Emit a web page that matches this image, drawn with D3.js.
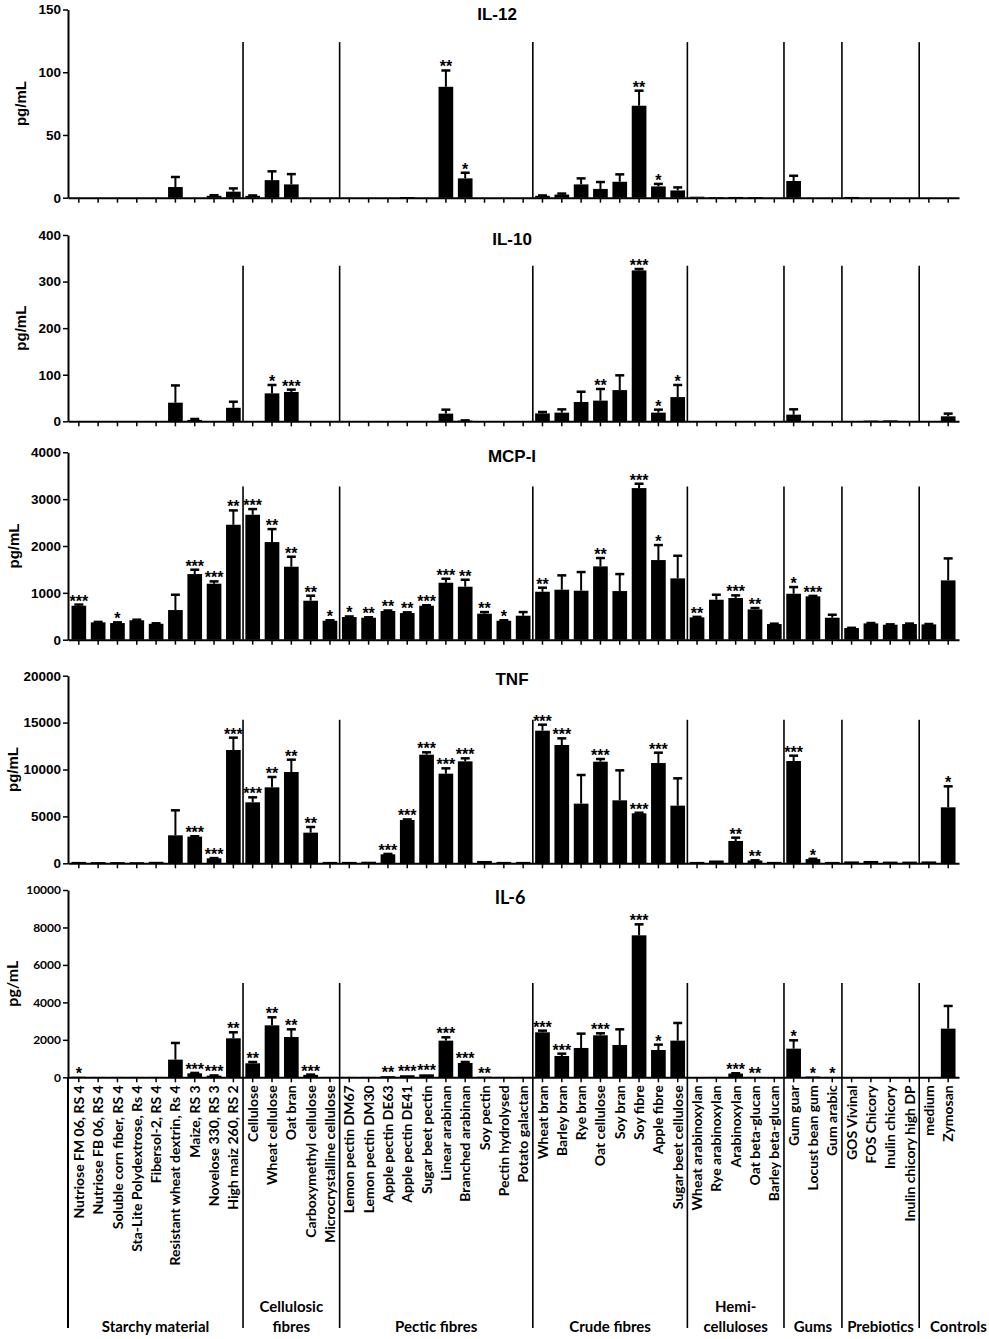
<!DOCTYPE html>
<html>
<head>
<meta charset="utf-8">
<script src="https://cdn.jsdelivr.net/npm/d3@7"></script>
<style>
  body { margin: 0; background: #fff; }
  svg { display: block; }
</style>
</head>
<body>
<div id="chart"></div>
<script>
const categories = [
  "Nutriose FM 06, RS 4", "Nutriose FB 06, RS 4", "Soluble corn fiber, RS 4", "Sta-Lite Polydextrose, Rs 4",
  "Fibersol-2, RS 4", "Resistant wheat dextrin, Rs 4", "Maize, RS 3", "Novelose 330, RS 3", "High maiz 260, RS 2",
  "Cellulose", "Wheat cellulose", "Oat bran", "Carboxymethyl cellulose", "Microcrystalline cellulose",
  "Lemon pectin DM67", "Lemon pectin DM30", "Apple pectin DE63", "Apple pectin DE41", "Sugar beet pectin",
  "Linear arabinan", "Branched arabinan", "Soy pectin", "Pectin hydrolysed", "Potato galactan",
  "Wheat bran", "Barley bran", "Rye bran", "Oat cellulose", "Soy bran", "Soy fibre", "Apple fibre", "Sugar beet cellulose",
  "Wheat arabinoxylan", "Rye arabinoxylan", "Arabinoxylan", "Oat beta-glucan", "Barley beta-glucan",
  "Gum guar", "Locust bean gum", "Gum arabic",
  "GOS Vivinal", "FOS Chicory", "Inulin chicory", "Inulin chicory high DP",
  "medium", "Zymosan"
];

const groupNames = [
  ["Starchy material"], ["Cellulosic", "fibres"], ["Pectic fibres"], ["Crude fibres"],
  ["Hemi-", "celluloses"], ["Gums"], ["Prebiotics"], ["Controls"]
];
const groupSizes = [9, 5, 10, 8, 5, 3, 4, 2];

// IL-12 (pg/mL)
const il12Ticks = [0, 50, 100, 150];
const il12Values = [0, 0, 0, 0, 0, 8.5, 0, 1.5, 4.8,  1.5, 14, 10.6, 0, 0,  0, 0, 0, 0.5, 0, 88.4, 15.4, 0, 0, 0,
  1.5, 2.5, 10.6, 7, 12.7, 73.3, 9, 5.8,  0.8, 0.3, 0.6, 0.4, 0,  13.3, 0, 0,  0.6, 0, 0, 0,  0, 0];
const il12Sem = [0, 0, 0, 0, 0, 8, 0, 0.5, 2.6,  0.3, 7, 8.2, 0, 0,  0, 0, 0, 0, 0, 13, 4.5, 0, 0, 0,
  0.3, 0.8, 4.8, 5.5, 5.9, 12, 2, 2.4,  0, 0, 0, 0, 0,  4.2, 0, 0,  0, 0, 0, 0,  0, 0];
const il12Stars = ["", "", "", "", "", "", "", "", "",  "", "", "", "", "",  "", "", "", "", "", "**", "*", "", "", "",
  "", "", "", "", "", "**", "*", "",  "", "", "", "", "",  "", "", "",  "", "", "", "",  "", ""];

// IL-10 (pg/mL)
const il10Ticks = [0, 100, 200, 300, 400];
const il10Values = [0, 0, 0, 0, 0, 40, 3, 0, 29,  0, 60, 63, 0, 0,  0, 0, 0, 0, 0, 16.5, 1.5, 0, 0, 0,
  17, 18.6, 41.5, 44.4, 67, 324, 18.6, 52,  0, 0, 0, 0, 0,  14.3, 0, 0,  0, 1.5, 2, 0,  0, 10.7];
const il10Sem = [0, 0, 0, 0, 0, 37, 2, 0, 13,  0, 18, 5, 0, 0,  0, 0, 0, 0, 0, 8.5, 0.5, 0, 0, 0,
  3, 7, 22, 25, 31.7, 3, 6.4, 26,  0, 0, 0, 0, 0,  11.4, 0, 0,  0, 0, 0, 0,  0, 5.8];
const il10Stars = ["", "", "", "", "", "", "", "", "",  "", "*", "***", "", "",  "", "", "", "", "", "", "", "", "", "",
  "", "", "", "**", "", "***", "*", "*",  "", "", "", "", "",  "", "", "",  "", "", "", "",  "", ""];

// MCP-I (pg/mL)
const mcpTicks = [0, 1000, 2000, 3000, 4000];
const mcpValues = [725, 370, 355, 415, 340, 633, 1401, 1195, 2454,  2667, 2084, 1558, 832, 405,
  484, 469, 612, 569, 725, 1216, 1131, 555, 405, 512,  1024, 1067, 1046, 1565, 1038, 3236, 1700, 1309,
  477, 853, 889, 647, 334,  981, 925, 469,  249, 348, 320, 334,  327, 1266];
const mcpSem = [25, 10, 15, 12, 10, 327, 93, 50, 306,  121, 277, 213, 107, 10,
  12, 10, 12, 15, 10, 85, 149, 35, 10, 78,  86, 306, 398, 178, 363, 93, 320, 483,
  10, 107, 57, 29, 8,  143, 10, 64,  5, 8, 8, 10,  8, 469];
const mcpStars = ["***", "", "*", "", "", "", "***", "***", "**",  "***", "**", "**", "**", "*",
  "*", "**", "**", "**", "***", "***", "**", "**", "*", "",  "**", "", "", "**", "", "***", "*", "",
  "**", "", "***", "**", "",  "*", "***", "",  "", "", "", "",  "", ""];

// TNF (pg/mL)
const tnfTicks = [0, 5000, 10000, 15000, 20000];
const tnfValues = [150, 130, 130, 120, 160, 2984, 2842, 533, 12078,  6501, 8099, 9734, 3268, 150,
  150, 170, 959, 4618, 11581, 9556, 10870, 250, 150, 150,  14139, 12611, 6359, 10835, 6714, 5329, 10693, 6146,
  150, 300, 2380, 300, 150,  10906, 450, 150,  200, 250, 180, 180,  200, 5968];
const tnfSem = [0, 0, 0, 0, 0, 2664, 40, 20, 1315,  533, 1102, 1314, 604, 0,
  0, 0, 40, 60, 249, 568, 320, 0, 0, 0,  639, 710, 3055, 284, 3197, 60, 1101, 2913,
  0, 0, 355, 20, 0,  568, 30, 0,  0, 0, 0, 0,  0, 2238];
const tnfStars = ["", "", "", "", "", "", "***", "***", "***",  "***", "**", "**", "**", "",
  "", "", "***", "***", "***", "***", "***", "", "", "",  "***", "***", "", "***", "", "***", "***", "",
  "", "", "**", "**", "",  "***", "*", "",  "", "", "", "",  "", "*"];

// IL-6 (pg/mL)
const il6Ticks = [0, 2000, 4000, 6000, 8000, 10000];
const il6Values = [30, 20, 20, 20, 20, 943, 213, 89, 2082,  747, 2775, 2153, 130, 20,
  20, 20, 60, 110, 160, 1957, 765, 30, 20, 20,  2402, 1139, 1566, 2242, 1726, 7580, 1459, 1957,
  10, 20, 200, 20, 10,  1530, 40, 20,  10, 10, 10, 10,  0, 2598];
const il6Sem = [0, 0, 0, 0, 0, 890, 20, 10, 320,  70, 428, 409, 15, 0,
  0, 0, 0, 0, 0, 178, 53, 0, 0, 0,  89, 124, 765, 107, 836, 587, 285, 943,
  0, 0, 15, 0, 0,  445, 0, 0,  0, 0, 0, 0,  0, 1210];
const il6Stars = ["*", "", "", "", "", "", "***", "***", "**",  "**", "**", "**", "***", "",
  "", "", "**", "***", "***", "***", "***", "**", "", "",  "***", "***", "", "***", "", "***", "*", "",
  "", "", "***", "**", "",  "*", "*", "*",  "", "", "", "",  "", ""];

const W = 989, H = 1339;
const ARIAL = "'Liberation Sans', Arial, sans-serif";
const CALIBRI = "Lato, 'Open Sans', sans-serif";
const labelBottom = 1328;

const panels = [
  { title: "IL-12", values: il12Values, sem: il12Sem, stars: il12Stars, ticks: il12Ticks, top: 9.5, zero: 197.7, divTop: 124, titleX: 497, titleY: 20, font: ARIAL },
  { title: "IL-10", values: il10Values, sem: il10Sem, stars: il10Stars, ticks: il10Ticks, top: 235, zero: 421.3, divTop: 334, titleX: 512, titleY: 245, font: ARIAL },
  { title: "MCP-I", values: mcpValues, sem: mcpSem, stars: mcpStars, ticks: mcpTicks, top: 452.3, zero: 639.7, divTop: 3270, titleX: 512, titleY: 462, font: ARIAL },
  { title: "TNF", values: tnfValues, sem: tnfSem, stars: tnfStars, ticks: tnfTicks, top: 675.7, zero: 863.3, divTop: 15300, titleX: 512, titleY: 685, font: ARIAL },
  { title: "IL-6", values: il6Values, sem: il6Sem, stars: il6Stars, ticks: il6Ticks, top: 890, zero: 1077.3, divTop: 5030, titleX: 510, titleY: 904, font: CALIBRI, last: true }
];

const svg = d3.select("#chart").append("svg").attr("width", W).attr("height", H);

const x = d3.scaleBand().domain(categories).range([68, 959]).paddingInner(0.24).paddingOuter(0.18);
const gap = x.step() - x.bandwidth();

// group boundaries (category index where a new group starts)
const starts = [];
groupSizes.reduce((acc, n) => { starts.push(acc); return acc + n; }, 0);
const boundaryX = (i) => x(categories[i]) - gap / 2;
const innerBoundaries = starts.slice(1).map(boundaryX);

panels.forEach((p) => {
  const y = d3.scaleLinear().domain([0, p.ticks[p.ticks.length - 1]]).range([p.zero, p.top]);
  const g = svg.append("g");
  const isCal = p.font === CALIBRI;

  // group divider lines
  g.selectAll("line.divider")
    .data(innerBoundaries)
    .join("line")
    .attr("class", "divider")
    .attr("x1", (d) => d).attr("x2", (d) => d)
    .attr("y1", y(p.divTop))
    .attr("y2", p.last ? labelBottom : p.zero)
    .attr("stroke", "#000").attr("stroke-width", 1.6);

  // bars
  const rows = categories.map((c, i) => ({ c, v: p.values[i], s: p.sem[i], star: p.stars[i] }));
  g.selectAll("rect")
    .data(rows.filter((d) => d.v > 0))
    .join("rect")
    .attr("x", (d) => x(d.c))
    .attr("width", x.bandwidth())
    .attr("y", (d) => y(d.v))
    .attr("height", (d) => Math.max(1, p.zero - y(d.v)))
    .attr("fill", "#000");

  // error bars (upper only)
  const errs = rows.filter((d) => d.s > 0);
  const cx = (d) => x(d.c) + x.bandwidth() / 2;
  g.selectAll("line.err")
    .data(errs)
    .join("line")
    .attr("class", "err")
    .attr("x1", cx).attr("x2", cx)
    .attr("y1", (d) => y(d.v)).attr("y2", (d) => y(d.v + d.s))
    .attr("stroke", "#000").attr("stroke-width", 2);
  g.selectAll("line.cap")
    .data(errs)
    .join("line")
    .attr("class", "cap")
    .attr("x1", (d) => cx(d) - 4.5).attr("x2", (d) => cx(d) + 4.5)
    .attr("y1", (d) => y(d.v + d.s)).attr("y2", (d) => y(d.v + d.s))
    .attr("stroke", "#000").attr("stroke-width", 2.5);

  // significance stars
  g.selectAll("text.star")
    .data(rows.filter((d) => d.star))
    .join("text")
    .attr("class", "star")
    .attr("x", cx)
    .attr("y", (d) => y(d.v + d.s) + 2)
    .attr("text-anchor", "middle")
    .attr("font-family", ARIAL)
    .attr("font-weight", "bold")
    .attr("font-size", 16)
    .text((d) => d.star);

  // y axis
  const yAxis = g.append("g")
    .attr("transform", "translate(68,0)")
    .call(d3.axisLeft(y).tickValues(p.ticks).tickFormat(d3.format("d"))
      .tickSize(5).tickSizeOuter(0).tickPadding(2))
    .attr("font-family", p.font)
    .attr("font-weight", "bold")
    .attr("font-size", isCal ? 12 : 13.5);
  yAxis.select(".domain").attr("stroke-width", 2);
  yAxis.selectAll(".tick line").attr("stroke-width", 1.5);
  yAxis.selectAll(".tick text").attr("fill", "#000");

  // x axis
  const xAxis = g.append("g")
    .attr("transform", `translate(0,${p.zero})`)
    .call(d3.axisBottom(x).tickSize(5).tickSizeOuter(0).tickFormat(p.last ? (d) => d : () => ""));
  xAxis.select(".domain").attr("stroke-width", 2);
  xAxis.selectAll(".tick line").attr("stroke-width", 1.5);
  if (p.last) {
    xAxis.selectAll(".tick text")
      .attr("transform", "rotate(-90)")
      .attr("x", -8).attr("y", 0).attr("dy", "0.36em")
      .attr("text-anchor", "end")
      .attr("fill", "#000")
      .attr("font-family", CALIBRI)
      .attr("font-weight", "bold")
      .attr("font-size", 14);
    // axis line continues down through the label area
    g.append("line")
      .attr("x1", 68).attr("x2", 68)
      .attr("y1", p.zero).attr("y2", labelBottom)
      .attr("stroke", "#000").attr("stroke-width", 2);
  }

  // y label, placed left of the widest tick label
  const tickLeft = d3.min(yAxis.selectAll(".tick text").nodes(), (n) => n.getBBox().x) + 68;
  svg.append("text")
    .attr("transform", `translate(${Math.max(18, tickLeft - 12)},${(p.top + p.zero) / 2}) rotate(-90)`)
    .attr("text-anchor", "middle")
    .attr("font-family", p.font)
    .attr("font-weight", "bold")
    .attr("font-size", isCal ? 16 : 15)
    .text("pg/mL");

  // panel title
  svg.append("text")
    .attr("x", p.titleX).attr("y", p.titleY)
    .attr("text-anchor", "middle")
    .attr("font-family", p.font)
    .attr("font-weight", "bold")
    .attr("font-size", isCal ? 18 : 17)
    .text(p.title);
});

// group labels under the category names
const edges = [68, ...innerBoundaries, x.range()[1] + 2 * x.step()];
groupNames.forEach((lines, i) => {
  const mid = (edges[i] + edges[i + 1]) / 2;
  const t = svg.append("text")
    .attr("text-anchor", "middle")
    .attr("font-family", CALIBRI)
    .attr("font-weight", "bold")
    .attr("font-size", 15);
  lines.forEach((line, k) => {
    t.append("tspan")
      .attr("x", mid)
      .attr("y", 1332 - (lines.length - 1 - k) * 20)
      .text(line);
  });
});
</script>
</body>
</html>
